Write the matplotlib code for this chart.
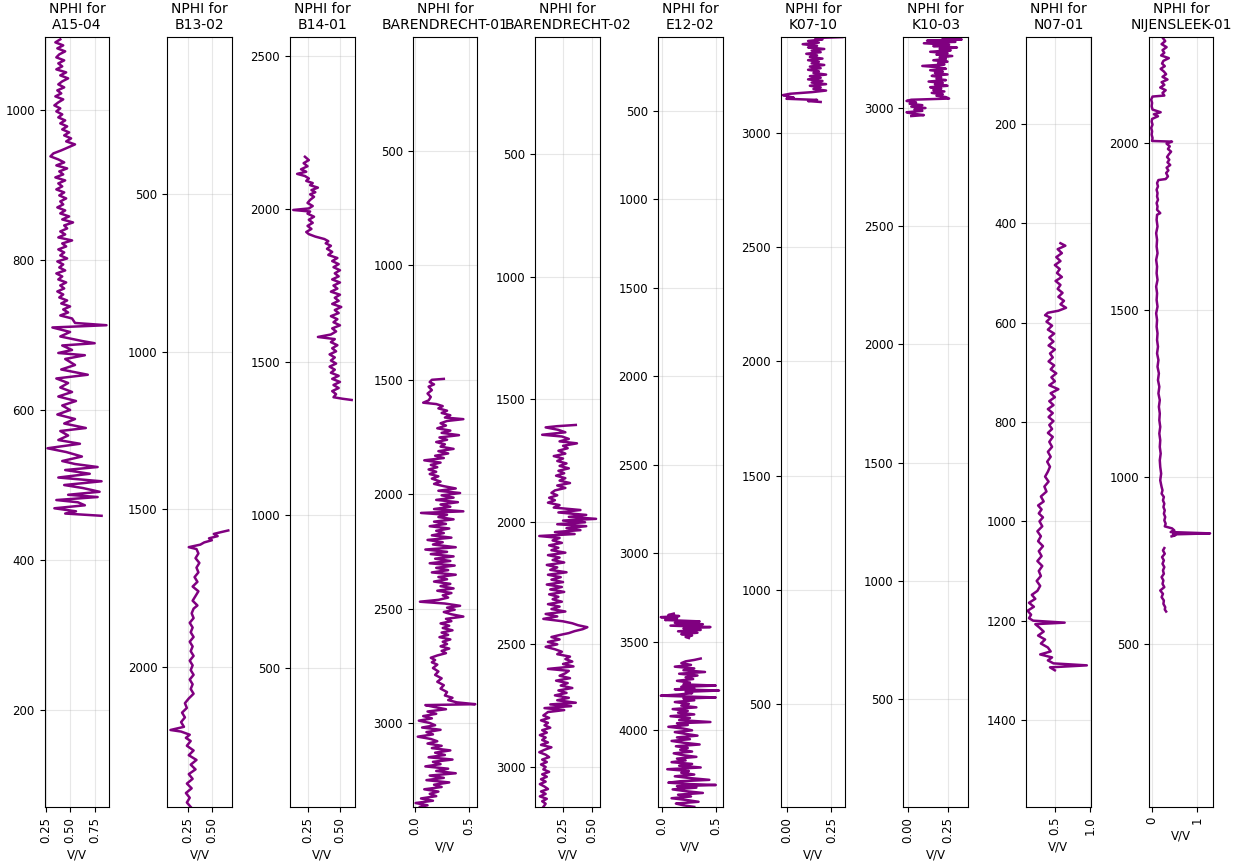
import numpy as np
import matplotlib.pyplot as plt
from matplotlib.ticker import MultipleLocator

nan = np.nan

wells = ["A15-04", "B13-02", "B14-01", "BARENDRECHT-01", "BARENDRECHT-02",
         "E12-02", "K07-10", "K10-03", "N07-01", "NIJENSLEEK-01"]

a15_depth = [1094, 1090, 1086, 1082, 1078, 1074, 1070, 1066, 1062, 1058, 1054, 1050, 1046, 1042, 1038,
             1034, 1030, 1026, 1022, 1018, 1014, 1010, 1006, 1002, 998, 994, 990, 986, 982, 978, 974,
             970, 966, 962, 958, 954, 950, 946, 942, 938, 934, 930, 926, 922, 918, 914, 910, 906, 902,
             898, 894, 890, 886, 882, 878, 874, 870, 866, 862, 858, 854, 850, 846, 842, 838, 834, 830,
             826, 822, 818, 814, 810, 806, 802, 798, 794, 790, 786, 782, 778, 774, 770, 766, 762, 758,
             754, 750, 746, 742, 738, 734, 730, 726, 722,
             716, 713, 710, 704, 698, 692, 689, 686, 680, 676, 673, 668, 660, 654, 647, 642, 636, 630,
             624, 618, 612, 606, 600, 594, 588, 582, 576, 572, 566, 560, 555, 549, 544, 538, 532, 528,
             524, 520, 515, 510, 505, 500, 496, 491, 487, 484, 480, 477, 473, 469, 465, 462, 459]
a15_nphi = [0.40, 0.35, 0.43, 0.37, 0.45, 0.39, 0.36, 0.44, 0.38, 0.42, 0.36, 0.46, 0.40, 0.48, 0.42,
            0.38, 0.44, 0.37, 0.41, 0.35, 0.43, 0.38, 0.34, 0.40, 0.36, 0.42, 0.38, 0.45, 0.40, 0.47,
            0.42, 0.49, 0.44, 0.51, 0.46, 0.55, 0.48, 0.41, 0.33, 0.30, 0.38, 0.44, 0.36, 0.47, 0.39,
            0.43, 0.35, 0.45, 0.38, 0.42, 0.36, 0.44, 0.39, 0.46, 0.40, 0.43, 0.37, 0.45, 0.40, 0.49,
            0.42, 0.53, 0.44, 0.47, 0.40, 0.45, 0.38, 0.52, 0.42, 0.46, 0.38, 0.44, 0.40, 0.47, 0.37,
            0.43, 0.39, 0.45, 0.36, 0.42, 0.38, 0.46, 0.40, 0.44, 0.37, 0.43, 0.39, 0.47, 0.41, 0.50,
            0.43, 0.48, 0.40, 0.52,
            0.55, 0.87, 0.32, 0.50, 0.40, 0.62, 0.75, 0.42, 0.52, 0.38, 0.65, 0.45, 0.55, 0.41, 0.68,
            0.36, 0.48, 0.40, 0.52, 0.38, 0.56, 0.42, 0.50, 0.37, 0.55, 0.44, 0.66, 0.40, 0.48, 0.38,
            0.60, 0.27, 0.46, 0.62, 0.42, 0.55, 0.78, 0.45, 0.70, 0.38, 0.82, 0.44, 0.63, 0.80, 0.48,
            0.78, 0.36, 0.58, 0.65, 0.34, 0.56, 0.45, 0.82]

b13_depth = [1567, 1572, 1578, 1585, 1592, 1598, 1605, 1612, 1620, 1626, 1640, 1655, 1670, 1685, 1700,
             1715, 1730, 1745, 1760, 1775, 1790, 1805, 1815, 1830, 1845, 1860, 1875, 1890, 1905, 1920,
             1935, 1950, 1965, 1980, 1995, 2010, 2025, 2040, 2055, 2070, 2085, 2100, 2115, 2130, 2145,
             2160, 2175, 2190, 2200, 2205, 2215, 2225, 2235, 2250, 2265, 2280, 2295, 2310, 2325, 2340,
             2355, 2370, 2385, 2400, 2415, 2430, 2444]
b13_nphi = [0.67, 0.60, 0.52, 0.56, 0.47, 0.50, 0.42, 0.38, 0.26, 0.34, 0.36, 0.33, 0.37, 0.34, 0.36,
            0.32, 0.35, 0.30, 0.36, 0.33, 0.30, 0.35, 0.31, 0.29, 0.31, 0.27, 0.30, 0.28, 0.31, 0.27,
            0.30, 0.28, 0.31, 0.27, 0.30, 0.28, 0.31, 0.27, 0.30, 0.28, 0.31, 0.26, 0.22, 0.24, 0.19,
            0.22, 0.18, 0.21, 0.07, 0.18, 0.27, 0.23, 0.28, 0.24, 0.31, 0.26, 0.34, 0.28, 0.33, 0.26,
            0.30, 0.24, 0.29, 0.23, 0.27, 0.24, 0.28]

b14_depth = [2171, 2160, 2150, 2140, 2130, 2122, 2115, 2108, 2100, 2092, 2085, 2078, 2070, 2062, 2055,
             2048, 2040, 2030, 2020, 2010, 2002, 1997, 1992, 1985, 1975, 1965, 1955, 1945, 1935, 1925,
             1918, 1910, 1902, 1895, 1888, 1880, 1870, 1860, 1850, 1840, 1830, 1820, 1810, 1800, 1790,
             1780, 1770, 1760, 1750, 1740, 1730, 1720, 1710, 1700, 1690, 1680, 1670, 1660, 1650, 1640,
             1630, 1620, 1610, 1600, 1590, 1582, 1575, 1565, 1555, 1545, 1535, 1525, 1515, 1505, 1495,
             1485, 1475, 1465, 1455, 1445, 1435, 1425, 1415, 1405, 1395, 1385, 1380, 1376]
b14_nphi = [0.23, 0.26, 0.22, 0.25, 0.20, 0.24, 0.17, 0.23, 0.26, 0.24, 0.29, 0.27, 0.33, 0.28, 0.31,
            0.27, 0.30, 0.27, 0.25, 0.29, 0.26, 0.14, 0.27, 0.25, 0.30, 0.26, 0.29, 0.25, 0.28, 0.24,
            0.26, 0.31, 0.38, 0.41, 0.39, 0.43, 0.40, 0.44, 0.41, 0.48, 0.44, 0.49, 0.45, 0.50, 0.46,
            0.49, 0.44, 0.50, 0.45, 0.48, 0.43, 0.50, 0.46, 0.49, 0.44, 0.51, 0.46, 0.49, 0.43, 0.48,
            0.45, 0.50, 0.44, 0.47, 0.43, 0.33, 0.46, 0.43, 0.48, 0.44, 0.47, 0.42, 0.46, 0.43, 0.47,
            0.42, 0.46, 0.43, 0.49, 0.44, 0.50, 0.45, 0.49, 0.44, 0.47, 0.45, 0.52, 0.59]

bar1_depth = [1496, 1500, 1510, 1520, 1530, 1545, 1560, 1575, 1590, 1600, 1606, 1615, 1625, 1635, 1645,
              1655, 1665, 1672, 1680, 1690, 1700, 1712, 1722, 1732, 1742, 1752, 1762, 1772, 1782, 1792,
              1802, 1812, 1822, 1832, 1842, 1852, 1862, 1872, 1882, 1892, 1902, 1912, 1922, 1932, 1945,
              1955, 1965, 1975, 1985, 1995, 2005, 2015, 2025, 2035, 2045, 2055, 2065, 2075, 2082, 2090,
              2100, 2110, 2120, 2130, 2140, 2150, 2160, 2170, 2180, 2190, 2200, 2210, 2220, 2232, 2242,
              2252, 2262, 2272, 2282, 2292, 2302, 2312, 2322, 2332, 2342, 2352, 2362, 2372, 2382, 2392,
              2402, 2412, 2422, 2432, 2442, 2452, 2462, 2470, 2478, 2488, 2496, 2505, 2515, 2525, 2535,
              2545, 2555, 2565, 2575, 2585, 2595, 2605, 2615, 2625, 2635, 2645, 2655, 2665, 2675, 2685,
              2695, 2705, 2715, 2725, 2735, 2745, 2760, 2775, 2790, 2805, 2820, 2835, 2850, 2865, 2880,
              2890, 2900, 2910, 2918, 2922, 2930, 2940, 2950, 2960, 2970, 2980, 2990, 3000, 3010, 3020,
              3030, 3040, 3050, 3060, 3070, 3080, 3090, 3100, 3110, 3120, 3130, 3140, 3150, 3160, 3170,
              3180, 3190, 3200, 3210, 3220, 3230, 3240, 3250, 3260, 3270, 3280, 3290, 3300, 3310, 3320,
              3330, 3340, 3350, 3360, 3367]
bar1_nphi = [0.27, 0.16, 0.14, 0.18, 0.13, 0.16, 0.12, 0.15, 0.13, 0.08, 0.20, 0.26, 0.22, 0.30, 0.25,
             0.33, 0.28, 0.45, 0.30, 0.24, 0.29, 0.21, 0.33, 0.25, 0.41, 0.23, 0.30, 0.20, 0.28, 0.24,
             0.36, 0.22, 0.31, 0.19, 0.27, 0.09, 0.24, 0.15, 0.21, 0.13, 0.20, 0.14, 0.22, 0.16, 0.24,
             0.18, 0.27, 0.38, 0.22, 0.42, 0.25, 0.36, 0.20, 0.40, 0.24, 0.33, 0.18, 0.45, 0.06, 0.30,
             0.22, 0.36, 0.18, 0.29, 0.14, 0.32, 0.20, 0.27, 0.16, 0.34, 0.12, 0.26, 0.17, 0.38, 0.10,
             0.30, 0.15, 0.36, 0.19, 0.33, 0.14, 0.37, 0.20, 0.31, 0.16, 0.38, 0.22, 0.30, 0.18, 0.33,
             0.24, 0.36, 0.21, 0.34, 0.26, 0.31, 0.22, 0.05, 0.28, 0.42, 0.30, 0.37, 0.27, 0.34, 0.45,
             0.29, 0.34, 0.24, 0.32, 0.26, 0.35, 0.25, 0.31, 0.23, 0.33, 0.26, 0.30, 0.24, 0.32, 0.25,
             0.29, 0.21, 0.15, 0.19, 0.16, 0.21, 0.17, 0.22, 0.19, 0.25, 0.21, 0.27, 0.24, 0.30, 0.28,
             0.35, 0.31, 0.39, 0.56, 0.10, 0.18, 0.29, 0.12, 0.20, 0.08, 0.16, 0.04, 0.14, 0.19, 0.07,
             0.24, 0.11, 0.17, 0.03, 0.15, 0.21, 0.12, 0.25, 0.16, 0.33, 0.19, 0.28, 0.13, 0.35, 0.17,
             0.24, 0.10, 0.31, 0.20, 0.38, 0.14, 0.27, 0.11, 0.32, 0.18, 0.25, 0.09, 0.22, 0.14, 0.20,
             0.06, 0.17, 0.01, 0.12, 0.05]

bar2_depth = [1605, 1610, 1615, 1625, 1635, 1645, 1652, 1662, 1672, 1680, 1690, 1700, 1710, 1722, 1732,
              1742, 1752, 1762, 1772, 1782, 1792, 1802, 1812, 1822, 1832, 1842, 1852, 1862, 1872, 1882,
              1892, 1902, 1912, 1922, 1932, 1942, 1952, 1962, 1972, 1980, 1988, 1995, 2002, 2010, 2018,
              2026, 2034, 2042, 2050, 2058, 2066, 2076, 2086, 2096, 2106, 2116, 2126, 2136, 2146, 2156,
              2166, 2176, 2186, 2196, 2206, 2216, 2226, 2236, 2246, 2256, 2266, 2276, 2286, 2296, 2306,
              2316, 2326, 2336, 2346, 2356, 2366, 2376, 2386, 2396, 2406, 2414, 2422, 2430, 2438, 2446,
              2454, 2462, 2470, 2480, 2490, 2500, 2510, 2520, 2530, 2540, 2550, 2560, 2570, 2580, 2590,
              2600, 2608, 2618, 2628, 2638, 2648, 2658, 2668, 2678, 2688, 2698, 2708, 2718, 2728, 2738,
              2745, 2752, 2760, 2768, 2776, 2790, 2800, 2810, 2820, 2830, 2840, 2850, 2860, 2870, 2880,
              2890, 2900, 2910, 2920, 2930, 2940, 2950, 2960, 2970, 2980, 2990, 3000, 3010, 3020, 3030,
              3040, 3050, 3060, 3070, 3080, 3090, 3100, 3110, 3120, 3130, 3140, 3150, 3163]
bar2_nphi = [0.36, 0.20, 0.10, 0.21, 0.27, 0.07, 0.24, 0.30, 0.22, 0.37, 0.25, 0.29, 0.21, 0.27, 0.17,
             0.25, 0.20, 0.28, 0.22, 0.30, 0.21, 0.26, 0.19, 0.27, 0.22, 0.31, 0.20, 0.27, 0.18, 0.15,
             0.20, 0.13, 0.18, 0.12, 0.22, 0.17, 0.40, 0.21, 0.45, 0.30, 0.535, 0.25, 0.44, 0.20, 0.45,
             0.28, 0.40, 0.18, 0.35, 0.045, 0.22, 0.16, 0.24, 0.13, 0.21, 0.15, 0.27, 0.12, 0.22, 0.16,
             0.26, 0.11, 0.20, 0.14, 0.28, 0.12, 0.23, 0.15, 0.25, 0.11, 0.24, 0.14, 0.26, 0.13, 0.21,
             0.16, 0.24, 0.12, 0.22, 0.15, 0.27, 0.10, 0.20, 0.08, 0.25, 0.33, 0.38, 0.46, 0.42, 0.35,
             0.30, 0.22, 0.15, 0.22, 0.12, 0.20, 0.10, 0.18, 0.24, 0.20, 0.31, 0.27, 0.33, 0.25, 0.34,
             0.12, 0.30, 0.27, 0.22, 0.31, 0.19, 0.29, 0.23, 0.33, 0.21, 0.28, 0.18, 0.30, 0.20, 0.36,
             0.14, 0.32, 0.09, 0.26, 0.12, 0.08, 0.13, 0.06, 0.12, 0.09, 0.14, 0.07, 0.11, 0.05, 0.10,
             0.07, 0.12, 0.06, 0.15, 0.09, 0.045, 0.10, 0.13, 0.07, 0.11, 0.06, 0.10, 0.08, 0.13, 0.07,
             0.11, 0.06, 0.10, 0.05, 0.09, 0.12, 0.06, 0.10, 0.05, 0.11, 0.07, 0.10, 0.08]

e12_depth = [3342, 3350, 3356, 3362, 3370, 3378, 3386, 3394, 3402, 3410, 3418, 3426, 3434, 3442, 3450,
             3458, 3466, 3474, 3480, nan,
             3596, 3604, 3612, 3622, 3632, 3642, 3652, 3662, 3672, 3682, 3692, 3702, 3712, 3722, 3732,
             3742, 3749, 3756, 3764, 3770, 3777, 3784, 3792, 3800, 3806, 3811, 3816, 3822, 3832, 3842,
             3852, 3862, 3872, 3882, 3892, 3902, 3912, 3922, 3932, 3944, 3955, 3962, 3972, 3982, 3992,
             4002, 4012, 4022, 4032, 4042, 4052, 4062, 4072, 4082, 4092, 4102, 4112, 4122, 4132, 4142,
             4152, 4162, 4172, 4182, 4192, 4202, 4212, 4222, 4232, 4242, 4252, 4262, 4272, 4282, 4290,
             4298, 4306, 4311, 4318, 4326, 4336, 4346, 4356, 4366, 4376, 4386, 4396, 4406, 4416, 4426,
             4435]
e12_nphi = [0.11, 0.06, 0.16, -0.01, 0.14, 0.03, 0.35, 0.12, 0.38, 0.08, 0.45, 0.20, 0.36, 0.15, 0.33,
            0.18, 0.28, 0.22, 0.25, nan,
            0.36, 0.30, 0.22, 0.18, 0.27, 0.12, 0.30, 0.20, 0.40, 0.16, 0.33, 0.22, 0.29, 0.14, 0.26,
            0.20, 0.50, 0.18, 0.30, 0.12, 0.53, 0.22, 0.28, 0.15, -0.01, 0.24, 0.50, 0.20, 0.30, 0.12,
            0.25, 0.18, 0.32, 0.10, 0.24, 0.15, 0.30, 0.08, 0.26, 0.16, 0.45, 0.14, 0.24, 0.06, 0.20,
            0.28, 0.12, 0.22, 0.33, 0.14, 0.26, 0.09, 0.20, 0.35, 0.13, 0.24, 0.17, 0.28, 0.11, 0.19,
            0.32, 0.14, 0.22, 0.09, 0.28, 0.16, 0.36, 0.05, 0.25, 0.18, 0.30, 0.12, 0.26, 0.44, 0.17,
            0.06, 0.26, 0.50, 0.14, 0.32, 0.10, 0.22, 0.38, 0.15, 0.27, 0.09, 0.23, 0.34, 0.13, 0.20,
            0.30]

k07_depth = [3420, 3416, 3410, 3403, 3396, 3389, 3382, 3375, 3368, 3361, 3354, 3347, 3340, 3333, 3326,
             3319, 3312, 3305, 3298, 3291, 3284, 3277, 3270, 3263, 3256, 3249, 3242, 3235, 3228, 3221,
             3214, 3207, 3200, 3193, 3186, 3179, 3172, 3166, 3160, 3155, 3150, 3145, 3140, 3136]
k07_nphi = [0.31, 0.16, 0.20, 0.12, 0.18, 0.09, 0.17, 0.12, 0.21, 0.14, 0.19, 0.11, 0.17, 0.13, 0.20,
            0.12, 0.18, 0.14, 0.21, 0.13, 0.19, 0.12, 0.18, 0.15, 0.22, 0.13, 0.19, 0.12, 0.20, 0.14,
            0.22, 0.13, 0.19, 0.15, 0.22, 0.14, 0.02, -0.02, 0.01, 0.04, 0.00, 0.17, 0.12, 0.19]

k10_depth = [3295, 3290, 3285, 3280, 3274, 3268, 3262, 3256, 3250, 3244, 3238, 3232, 3226, 3220, 3214,
             3208, 3202, 3196, 3190, 3184, 3178, 3172, 3166, 3160, 3154, 3148, 3142, 3136, 3130, 3124,
             3118, 3112, 3106, 3100, 3094, 3088, 3082, 3076, 3070, 3064, 3058, 3052, 3046, 3040, 3035,
             3030, 3024, 3018, 3012, 3006, 3000, 2994, 2988, 2982, 2976, 2970, 2966]
k10_nphi = [0.22, 0.34, 0.12, 0.30, 0.10, 0.26, 0.16, 0.31, 0.20, 0.27, 0.14, 0.25, 0.18, 0.28, 0.20,
            0.24, 0.16, 0.25, 0.19, 0.23, 0.09, 0.20, 0.24, 0.14, 0.22, 0.17, 0.25, 0.15, 0.21, 0.18,
            0.24, 0.13, 0.22, 0.17, 0.25, 0.14, 0.21, 0.16, 0.23, 0.15, 0.22, 0.18, 0.24, 0.26, 0.02,
            -0.01, 0.05, 0.01, 0.09, 0.02, 0.11, 0.04, 0.09, -0.01, 0.03, 0.10, 0.02]

n07_depth = [440, 445, 452, 460, 468, 476, 484, 492, 500, 508, 516, 524, 532, 540, 548, 556, 563, 570,
             576, 580, 585, 590, 598, 606, 614, 622, 630, 638, 646, 654, 662, 670, 678, 686, 694, 702,
             710, 718, 726, 734, 742, 750, 758, 766, 774, 782, 790, 798, 806, 814, 822, 830, 840, 850,
             860, 870, 880, 890, 900, 910, 920, 930, 940, 950, 960, 968, 976, 984, 992, 1000, 1010,
             1020, 1030, 1040, 1050, 1060, 1070, 1080, 1090, 1100, 1110, 1120, 1130, 1140, 1148, 1156,
             1164, 1172, 1180, 1188, 1195, 1200, 1204, 1207, 1214, 1222, 1230, 1238, 1246, 1254, 1262,
             1268, 1274, 1280, 1286, 1290, 1294, 1300]
n07_nphi = [0.58, 0.65, 0.54, 0.60, 0.52, 0.58, 0.50, 0.57, 0.53, 0.60, 0.51, 0.58, 0.54, 0.61, 0.55,
            0.63, 0.58, 0.66, 0.55, 0.40, 0.36, 0.44, 0.38, 0.46, 0.40, 0.49, 0.42, 0.48, 0.41, 0.50,
            0.43, 0.47, 0.41, 0.49, 0.44, 0.52, 0.45, 0.50, 0.42, 0.55, 0.44, 0.50, 0.42, 0.48, 0.40,
            0.47, 0.41, 0.48, 0.42, 0.46, 0.40, 0.47, 0.42, 0.46, 0.40, 0.44, 0.39, 0.43, 0.40, 0.36,
            0.41, 0.35, 0.38, 0.30, 0.34, 0.26, 0.31, 0.27, 0.33, 0.28, 0.32, 0.25, 0.30, 0.26, 0.33,
            0.27, 0.31, 0.25, 0.32, 0.27, 0.30, 0.24, 0.29, 0.25, 0.17, 0.22, 0.13, 0.20, 0.11, 0.16,
            0.13, 0.19, 0.64, 0.22, 0.28, 0.34, 0.26, 0.36, 0.30, 0.40, 0.44, 0.29, 0.46, 0.40, 0.48,
            0.957, 0.43, 0.50]

nij_depth = [2314, 2305, 2296, 2287, 2278, 2270, 2262, 2254, 2246, 2238, 2230, 2222, 2214, 2206, 2198,
             2190, 2182, 2174, 2166, 2158, 2150, 2142, 2139, 2130, 2120, 2110, 2100, 2092, 2086, 2080,
             2072, 2064, 2055, 2045, 2035, 2025, 2015, 2006, 2004, 1998, 1990, 1982, 1974, 1966, 1958,
             1950, 1942, 1934, 1926, 1918, 1910, 1900, 1892, 1889, 1880, 1870, 1860, 1850, 1840, 1830,
             1820, 1810, 1800, 1790, 1785, 1770, 1750, 1730, 1710, 1690, 1670, 1650, 1630, 1610, 1590,
             1570, 1550, 1530, 1510, 1490, 1470, 1450, 1430, 1410, 1390, 1370, 1350, 1330, 1310, 1290,
             1270, 1250, 1230, 1210, 1190, 1170, 1150, 1130, 1110, 1090, 1070, 1050, 1030, 1010, 990,
             970, 960, 950, 940, 930, 920, 910, 900, 890, 880, 870, 860, 852, 846, 840, 835, 831, 828,
             825, 822, nan,
             787, 780, 770, 760, 750, 740, 730, 720, 710, 700, 690, 680, 670, 660, 650, 640, 630, 620,
             610, 603, 597]
nij_nphi = [0.25, 0.30, 0.22, 0.33, 0.24, 0.28, 0.21, 0.38, 0.26, 0.23, 0.29, 0.20, 0.27, 0.32, 0.24,
            0.35, 0.22, 0.28, 0.19, 0.31, 0.24, 0.28, 0.02, -0.01, 0.01, 0.00, 0.02, 0.20, 0.05, 0.14,
            0.01, 0.00, 0.02, -0.01, 0.01, 0.00, 0.02, 0.01, 0.45, 0.33, 0.40, 0.36, 0.43, 0.38, 0.34,
            0.39, 0.35, 0.41, 0.33, 0.37, 0.32, 0.36, 0.31, 0.15, 0.12, 0.14, 0.11, 0.13, 0.12, 0.14,
            0.11, 0.13, 0.12, 0.19, 0.12, 0.11, 0.13, 0.10, 0.12, 0.11, 0.13, 0.10, 0.12, 0.11, 0.13,
            0.10, 0.12, 0.11, 0.13, 0.10, 0.12, 0.11, 0.13, 0.12, 0.14, 0.12, 0.15, 0.13, 0.16, 0.14,
            0.17, 0.15, 0.18, 0.16, 0.18, 0.17, 0.19, 0.17, 0.19, 0.18, 0.20, 0.18, 0.19, 0.21, 0.19,
            0.22, 0.24, 0.22, 0.27, 0.25, 0.28, 0.26, 0.29, 0.27, 0.30, 0.28, 0.31, 0.29, 0.45, 0.50,
            0.42, 1.29, 0.47, 0.52, 0.44, nan,
            0.28, 0.25, 0.29, 0.23, 0.27, 0.24, 0.28, 0.25, 0.27, 0.22, 0.26, 0.24, 0.28, 0.19, 0.25,
            0.22, 0.27, 0.26, 0.30, 0.29, 0.32]

depths = [a15_depth, b13_depth, b14_depth, bar1_depth, bar2_depth,
          e12_depth, k07_depth, k10_depth, n07_depth, nij_depth]
nphis = [a15_nphi, b13_nphi, b14_nphi, bar1_nphi, bar2_nphi,
         e12_nphi, k07_nphi, k10_nphi, n07_nphi, nij_nphi]

# axis ranges as shown (bottom, top) -- some wells are plotted depth-down, some not
depth_limits = [(71, 1097), (2444, 2), (46, 2562), (3367, 2), (3163, 23),
                (4435, 82), (50, 3420), (43, 3300), (1575, 25), (12, 2317)]
nphi_limits = [(0.24, 0.90), (0.036, 0.71), (0.114, 0.614), (-0.018, 0.58), (0.01, 0.57),
               (-0.037, 0.565), (-0.033, 0.328), (-0.031, 0.381), (0.086, 1.014), (-0.067, 1.365)]
nphi_ticks = [[0.25, 0.50, 0.75], [0.25, 0.50], [0.25, 0.50], [0.0, 0.5], [0.25, 0.50],
              [0.0, 0.5], [0.00, 0.25], [0.00, 0.25], [0.5, 1.0], [0, 1]]
depth_steps = [200, 500, 500, 500, 500, 500, 500, 500, 200, 500]


def main() -> None:
  fig, axes = plt.subplots(1, len(wells), figsize=(12.37, 8.63), dpi=100)
  fig.subplots_adjust(left=0.036, right=0.981, top=0.957, bottom=0.065, wspace=0.89)

  for i, ax in enumerate(axes):
    ax.plot(nphis[i], depths[i], color='purple', linewidth=1.8)
    ax.set_title(f"NPHI for\n{wells[i]}", fontsize=10)
    ax.set_xlabel('V/V', fontsize=8.5)

    ax.set_ylim(*depth_limits[i])
    ax.set_xlim(*nphi_limits[i])
    ax.set_xticks(nphi_ticks[i])
    ax.yaxis.set_major_locator(MultipleLocator(depth_steps[i]))
    ax.tick_params(axis='both', labelsize=8.5)
    ax.tick_params(axis='x', labelrotation=90)
    ax.grid(True, alpha=0.3)

  plt.savefig("out.png")
  plt.close()


if __name__ == "__main__":
  main()
